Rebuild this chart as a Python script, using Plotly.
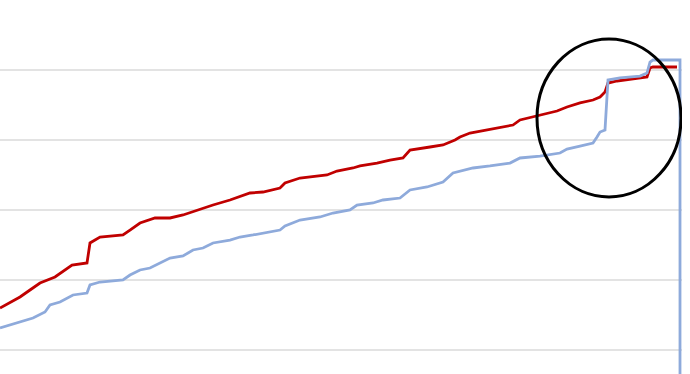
import plotly.graph_objects as go

# Day index and values
red_x = [0, 10, 15, 20, 27.5, 32.5, 36, 43.5, 45, 50,
         61.5, 65, 70, 77.5, 85, 91.5, 98.5, 106.5, 115, 121.5,
         125, 131.5, 140, 142.5, 150, 163.5, 168.5, 176.5, 180, 188.5,
         195, 201.5, 205, 215, 221.5, 227.5, 230, 235, 243.5, 250,
         256.5, 260, 266.5, 273.5, 278.5, 283.5, 290, 296.5, 300, 302.5,
         304, 308.5, 316.5, 323.5, 325, 326.5, 338.5]
red_y = [60, 75.7, 85.7, 95.7, 104.3, 114.3, 121.4, 124.3, 152.9, 161.4,
         164.3, 171.4, 181.4, 188.6, 188.6, 192.9, 200, 207.1, 214.3, 221.4,
         224.3, 225.7, 231.4, 238.6, 245.7, 250, 255.7, 260, 262.9, 267.1,
         271.4, 274.3, 285.7, 290, 292.9, 300, 304.3, 310, 314.3, 317.1,
         321.4, 328.6, 332.9, 337.1, 341.4, 347.1, 352.9, 357.1, 361.4, 368.6,
         381.4, 384.3, 387.1, 390, 402.9, 404.3, 404.3]

blue_x = [0, 5, 8.5, 13.5, 16.5, 22.5, 25, 30, 33.5, 36.5,
          43.5, 45, 50, 61.5, 65, 70, 75, 81.5, 85, 91.5,
          96.5, 101.5, 106.5, 115, 120, 126.5, 135, 140, 142.5, 150,
          160, 166.5, 175, 178.5, 186.5, 191.5, 200, 205, 213.5, 221.5,
          226.5, 236.5, 245, 255, 260, 270, 280, 283.5, 290, 296.5,
          298.5, 300, 302.5, 304, 310, 320, 323.5, 325, 326.5, 340,
          340]
blue_y = [31.4, 35.7, 38.6, 42.9, 45.7, 54.3, 64.3, 68.6, 74.3, 78.6,
          81.4, 92.9, 97.1, 100, 107.1, 114.3, 117.1, 125.7, 131.4, 134.3,
          142.9, 145.7, 152.9, 157.1, 161.4, 164.3, 168.6, 171.4, 177.1, 185.7,
          190, 195.7, 200, 207.1, 210, 214.3, 217.1, 228.6, 232.9, 240,
          252.9, 260, 262.9, 267.1, 274.3, 277.1, 281.4, 287.1, 291.4, 295.7,
          304.3, 311.4, 314.3, 385.7, 388.6, 391.4, 395.7, 411.4, 414.3, 414.3,
          -100]

y_ticks = [0, 100, 200, 300, 400, 500]

fig = go.Figure()
fig.add_trace(go.Scatter(x=red_x, y=red_y, mode="lines",
                         line=dict(color="#c00000", width=2.8), showlegend=False))
fig.add_trace(go.Scatter(x=blue_x, y=blue_y, mode="lines",
                         line=dict(color="#8eaadb", width=2.8), showlegend=False))

fig.add_shape(type="circle", xref="x", yref="y",
              x0=268.5, x1=340.5, y0=218.6, y1=444.3,
              line=dict(color="black", width=3))

fig.update_layout(
    width=690, height=374,
    margin=dict(l=0, r=8, t=0, b=0),
    paper_bgcolor="white", plot_bgcolor="white",
    xaxis=dict(range=[0, 341], showgrid=False, zeroline=False,
               showticklabels=False, showline=False, ticks=""),
    yaxis=dict(range=[-34.29, 500], tickvals=y_ticks, showgrid=True,
               gridcolor="#e3e3e3", gridwidth=2, zeroline=False,
               showticklabels=False, showline=False, ticks=""),
)

fig.write_html("out.html", config={"displayModeBar": False})
